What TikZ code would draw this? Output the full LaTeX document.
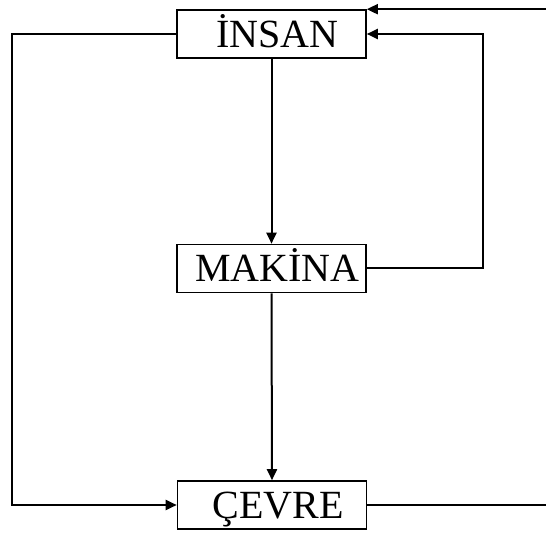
\documentclass[tikz,border=0pt]{standalone}
\usepackage{fontspec}
\setmainfont{Liberation Serif}
\usetikzlibrary{arrows.meta}
\begin{document}
\begin{tikzpicture}[x=1pt,y=-1pt,
  box/.style={draw, line width=1.6pt, minimum width=189pt, minimum height=48pt,
    inner sep=0pt, text height=27pt, text depth=0pt, font=\fontsize{40}{40}\selectfont},
  conn/.style={line width=2pt},
  arr/.style={conn, -{Triangle[length=11pt,width=10pt]}}]
\useasboundingbox (0,0) rectangle (546,534);
\fill[white] (0,0) rectangle (546,534);
\node[box] (insan) at (271.5,34) {\hspace{12pt}İNSAN};
\node[box] (makina) at (271.5,268.5) {\hspace{12pt}MAKİNA};
\node[box] (cevre) at (272,505) {\hspace{12pt}ÇEVRE};
\coordinate (lft) at (12,34);
\coordinate (rmid) at (483,268.5);
\coordinate (rfar) at (546.6,505);
\draw[arr] (insan.south) -- (makina.north);
\draw[arr] (makina.south) -- (cevre.north);
\draw[arr] (insan.west) -- (lft) |- (cevre.west);
\draw[arr] (makina.east) -- (rmid) |- (insan.east);
\draw[arr] (cevre.east) -- (rfar) |- (insan.north east);
\end{tikzpicture}
\end{document}
